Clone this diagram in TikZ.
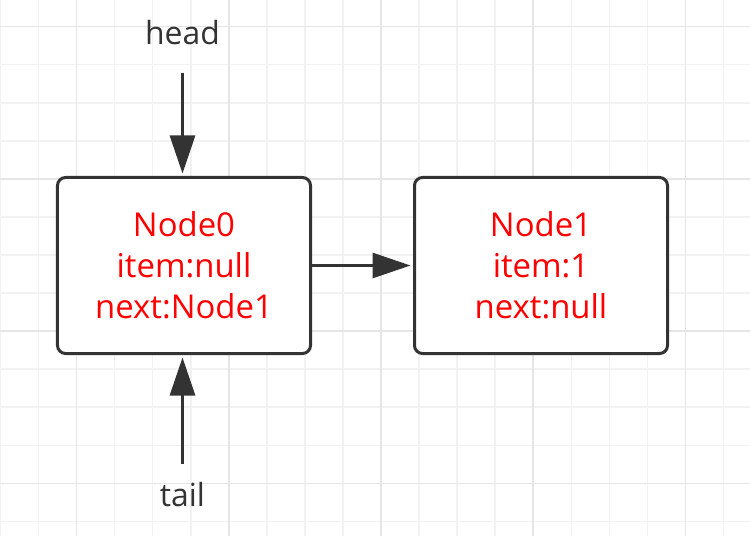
\documentclass[tikz,border=0pt]{standalone}
\usepackage{fontspec}
\setmainfont{Open Sans}
\usetikzlibrary{arrows.meta,positioning}
\definecolor{ListInk}{RGB}{51,51,51}
\definecolor{ListRed}{RGB}{255,0,0}
\definecolor{GridMinor}{RGB}{242,242,242}
\definecolor{GridMajor}{RGB}{229,229,229}

\begin{document}
\begin{tikzpicture}[x=1bp,y=-1bp,node distance=101bp,>={Triangle[length=38bp,width=25bp]}]
    \tikzset{listnode/.style={draw=ListInk,line width=3bp,rounded corners=8bp,fill=white,minimum width=253bp,minimum height=176bp,align=center,text=ListRed,font=\fontsize{33}{41}\selectfont},
      ptr/.style={inner sep=0pt,text=ListInk,font=\fontsize{32}{38}\selectfont},
      link/.style={->,ListInk,line width=3bp,shorten >=2.5bp}}
    \fill[white] (0,0) rectangle (750,536);
    \useasboundingbox (0,0) rectangle (750,536);
    % background grid
    \foreach \k in {0,...,19}
      \draw[GridMinor,line width=1.5bp] ({0.5+38.05*\k},0) -- ++(0,536);
    \foreach \k in {0,...,13}
      \draw[GridMinor,line width=1.5bp] (0,{26.7+38.05*\k}) -- ++(750,0);
    \foreach \k in {2,6,...,18}
      \draw[GridMajor,line width=1.5bp] ({0.5+38.05*\k},0) -- ++(0,536);
    \foreach \k in {0,4,...,12}
      \draw[GridMajor,line width=1.5bp] (0,{26.7+38.05*\k}) -- ++(750,0);
    % list
    \node[listnode] (node0) at (184,265.5) {Node0\\item:null\\next:Node1};
    \node[listnode,right=of node0] (node1) {Node1\\item:1\\next:null};
    \node[ptr,anchor=base] (head) at (182.5,45) {head};
    \node[ptr,anchor=base] (tail) at (182.5,506.7) {tail};
    \draw[link] (node0) -- (node1);
    \draw[link] ([yshift=-27bp]head.south) -- (head |- node0.north);
    \draw[link] ([yshift=18bp]tail.north) -- (tail |- node0.south);
  \end{tikzpicture}
\end{document}
